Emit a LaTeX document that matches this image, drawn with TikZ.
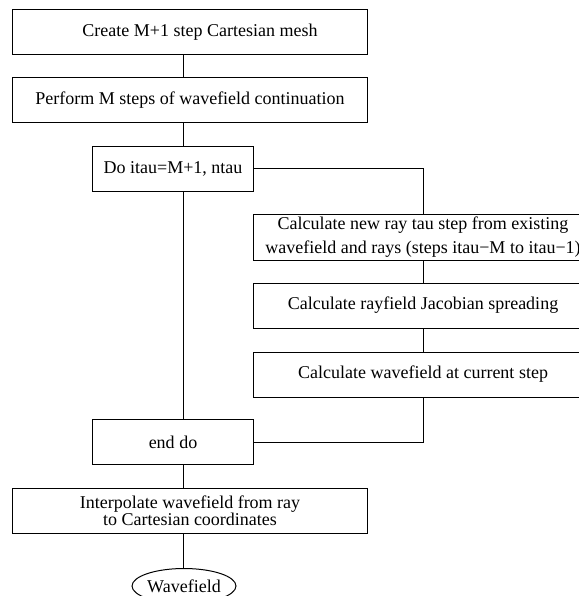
\documentclass[tikz,border=0pt]{standalone}
\usepackage{fontspec}
\setmainfont{Liberation Serif}
\usetikzlibrary{shapes.geometric}
\begin{document}
\begin{tikzpicture}[x=0.5bp, y=-0.5bp, line width=0.5bp,
    every node/.style={font=\fontsize{9bp}{10.8bp}\selectfont},
    stepbox/.style={draw, rectangle, inner sep=0pt, minimum height=22.5bp},
    widebox/.style={stepbox, minimum width=177bp},
    loopbox/.style={stepbox, minimum width=80bp},
    rightbox/.style={stepbox, minimum width=170bp},
    endbox/.style={draw, ellipse, inner sep=0pt, minimum width=51.5bp, minimum height=17.5bp}]
    \useasboundingbox (0,0) rectangle (579,596);
    \coordinate (spine) at (183,0);
    % main column
    \node[widebox] (create) at (190,32.5) {\hspace*{10bp}Create M+1 step Cartesian mesh};
    \node[widebox] (perform) at (190,100.5) {Perform M steps of wavefield continuation};
    \node[loopbox] (doloop) at (173,169) {Do itau=M+1, ntau};
    \node[loopbox] (enddo) at (173,442) {end do};
    \node[widebox, align=center] (interp) at (190,511) {Interpolate wavefield from ray\\[-2.2bp] to Cartesian coordinates};
    \node[endbox] (wavefield) at (184,586) {Wavefield};
    % loop body
    \node[rightbox, align=center] (newstep) at (423,237.5) {Calculate new ray tau step from existing\\[1.2bp] wavefield and rays (steps itau−M to itau−1)};
    \node[rightbox] (jacobian) at (423,305.5) {Calculate rayfield Jacobian spreading};
    \node[rightbox] (current) at (423,374.5) {Calculate wavefield at current step};
    \draw (create.south -| spine) -- (perform.north -| spine);
    \draw (perform.south -| spine) -- (doloop.north -| spine);
    \draw (doloop.south -| spine) -- (enddo.north -| spine);
    \draw (enddo.south -| spine) -- (interp.north -| spine);
    \draw (interp.south -| spine) -- (wavefield.north -| spine);
    \draw (doloop.east) -| (newstep.north);
    \draw (newstep.south) -- (jacobian.north);
    \draw (jacobian.south) -- (current.north);
    \draw (current.south) |- (enddo.east);
\end{tikzpicture}
\end{document}
